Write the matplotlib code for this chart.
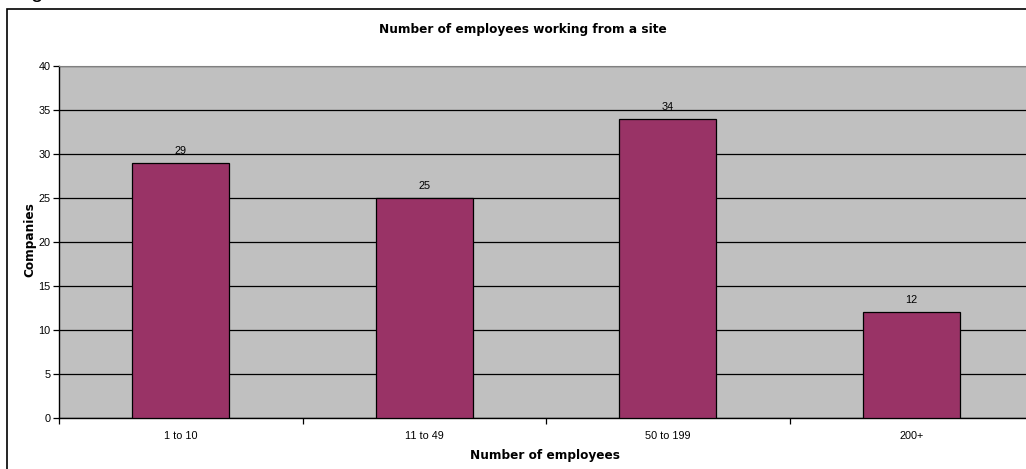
import matplotlib
matplotlib.use("Agg")
import matplotlib.pyplot as plt
from matplotlib.patches import Rectangle
import numpy as np

categories = ["1 to 10", "11 to 49", "50 to 199", "200+"]
companies = [29, 25, 34, 12]
y_ticks = [0, 5, 10, 15, 20, 25, 30, 35, 40]

W, H = 1026, 469
fig = plt.figure(figsize=(W / 100, H / 100), dpi=100)
fig.patch.set_facecolor("white")

# chart frame
fig.add_artist(Rectangle((7 / W, -0.1), 1.2, 1 - 9 / H + 0.1,
                         transform=fig.transFigure, fill=False,
                         edgecolor="black", linewidth=1.2))
fig.text(30 / W, 1 + 3 / H, "g", fontsize=16, va="baseline", ha="left",
         family="Liberation Sans")

left, right, top, bottom = 59, 1033, 66, 418
ax = fig.add_axes([left / W, 1 - bottom / H, (right - left) / W, (bottom - top) / H])
ax.set_facecolor("#C0C0C0")

x = np.arange(len(categories))
bars = ax.bar(x, companies, width=0.4, color="#993366", edgecolor="black",
              linewidth=0.9, zorder=3)
ax.bar_label(bars, labels=[str(v) for v in companies], padding=5,
             fontsize=7.8, family="Liberation Sans")

ax.set_xlim(-0.5, len(categories) - 0.5)
ax.set_ylim(0, 40)
ax.set_yticks(y_ticks)
ax.yaxis.grid(True, color="black", linewidth=0.9, zorder=1)
ax.set_axisbelow(True)

ax.set_xticks(x)
ax.set_xticklabels(categories)
ax.set_xticks(np.arange(-0.5, len(categories)), minor=True)
ax.tick_params(axis="x", which="major", length=0, pad=9, labelsize=7.8)
ax.tick_params(axis="x", which="minor", length=4, width=0.9, direction="out")
ax.tick_params(axis="y", length=4, width=0.9, direction="out", pad=2, labelsize=7.8)
for lbl in ax.get_xticklabels() + ax.get_yticklabels():
    lbl.set_family("Liberation Sans")

ax.spines["top"].set_color("#808080")
ax.spines["right"].set_color("#808080")
for s in ("left", "bottom"):
    ax.spines[s].set_color("black")
    ax.spines[s].set_linewidth(1.0)

fig.text(523 / W, 1 - 29 / H, "Number of employees working from a site",
         ha="center", va="center", fontsize=8.7, fontweight="bold",
         family="DejaVu Sans")
fig.text(545 / W, 1 - 455 / H, "Number of employees", ha="center", va="center",
         fontsize=8.7, fontweight="bold", family="DejaVu Sans")
fig.text(30 / W, 1 - 240 / H, "Companies", ha="center", va="center",
         rotation=90, fontsize=8.7, fontweight="bold", family="DejaVu Sans")

fig.savefig("out.png", dpi=100)
